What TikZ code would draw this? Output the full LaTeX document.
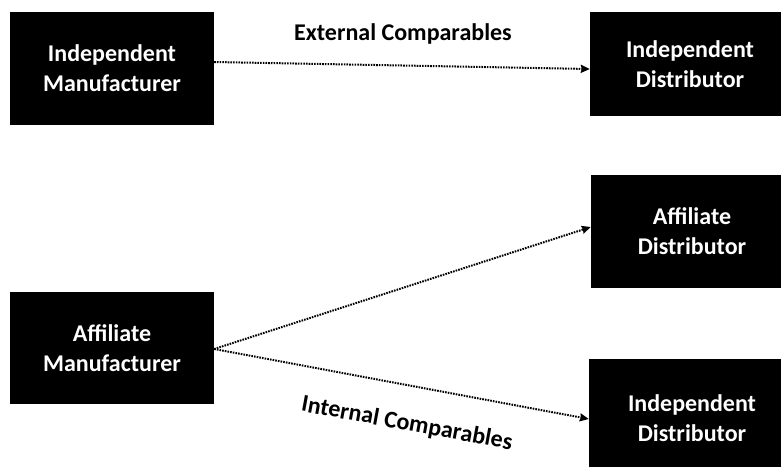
\documentclass[tikz,border=0pt]{standalone}
\usepackage{fontspec}
\setmainfont{Carlito}
\usetikzlibrary{arrows.meta}
\begin{document}
\begin{tikzpicture}[x=1pt,y=-1pt,
  party/.style={fill=black, text=white, draw=none, align=center, inner sep=0pt,
    font=\fontsize{24}{30}\selectfont\bfseries},
  flow/.style={line width=2pt, dash pattern=on 1.6pt off 1.1pt,
    -{Stealth[length=9pt,width=8pt,inset=1pt]}},
  caption/.style={font=\fontsize{24}{30}\selectfont\bfseries, inner sep=0pt}]
\useasboundingbox (0,0) rectangle (781,466);
% upper row: independent parties
\node[party, minimum width=204, minimum height=113] (im) at (112,68.5) {Independent\\Manufacturer};
\node[party, minimum width=200, minimum height=104] (id1) at (690,64) {Independent\\Distributor};
% lower group: affiliate manufacturer and its customers
\node[party, minimum width=204, minimum height=112] (am) at (112,348) {Affiliate\\Manufacturer};
\node[party, minimum width=202, minimum height=113] (ad) at (692,231.5) {Affiliate\\Distributor};
\node[party, minimum width=206, minimum height=118] (id2) at (692,418) {Independent\\Distributor};
% transactions
\draw[flow] ([yshift=6.5]im.east) -- ([yshift=-5]id1.west);
\draw[flow] ([yshift=-1]am.east) -- ([yshift=4.5]ad.west);
\draw[flow] ([yshift=-1]am.east) -- ([yshift=-1]id2.west);
% labels
\node[caption] (ext) at (403,34) {External Comparables};
\node[caption, rotate=-10.5] (int) at (407,424) {Internal Comparables};
\end{tikzpicture}
\end{document}
